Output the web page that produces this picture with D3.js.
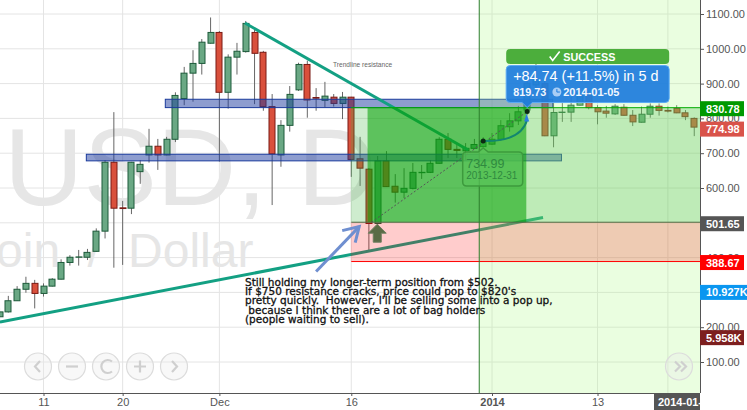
<!DOCTYPE html>
<html>
<head>
<meta charset="utf-8">
<script src="https://cdn.jsdelivr.net/npm/d3@7"></script>
<style>
    html, body { margin: 0; padding: 0; background: #fff; overflow: hidden; }
    svg { display: block; font-family: "Liberation Sans", Arial, sans-serif; }
    .tick text { fill: #555; }
</style>
</head>
<body>
<div id="chart"></div>
<script>
// daily candles, first one is Nov 6 2013 (day -5, day 0 = Nov 11)
const firstDay = -5;
const opens = [230, 244, 276, 309, 326, 297, 318, 338, 386, 401, 401, 418, 476, 674, 543, 542, 647, 695, 720, 695, 740, 857, 930, 958, 1016, 1047, 875, 976, 992, 1047, 990, 834, 695, 780, 882, 955, 860, 852, 861, 843, 861, 684, 654, 498, 678, 605, 588, 599, 644, 645, 671, 740, 711, 707, 714, 719, 726, 740, 776, 793, 824, 896, 900, 750, 817, 818, 838, 873, 831, 821, 813, 832, 809, 789, 812, 835, 823, 829, 816, 800];
const closes = [244, 276, 309, 326, 297, 318, 338, 386, 401, 402, 415, 476, 674, 542, 541, 674, 668, 720, 695, 740, 866, 930, 958, 1019, 1047, 875, 976, 993, 1073, 987, 834, 698, 780, 869, 955, 853, 858, 864, 843, 861, 682, 657, 498, 678, 604, 588, 599, 645, 645, 671, 740, 711, 708, 714, 725, 735, 740, 779, 793, 819, 901, 910, 750, 817, 818, 838, 873, 831, 819, 815, 835, 809, 790, 812, 835, 823, 821, 816, 805, 775];
const highs = [255, 290, 318, 345, 336, 326, 341, 395, 407, 422, 425, 484, 680, 818, 563, 675, 680, 770, 741, 747, 875, 948, 996, 1028, 1090, 1051, 984, 1017, 1080, 1054, 994, 870, 795, 893, 960, 966, 887, 905, 870, 876, 862, 747, 657, 692, 706, 640, 657, 672, 666, 680, 746, 758, 729, 729, 741, 746, 758, 795, 815, 836, 925, 988, 910, 844, 844, 862, 887, 880, 838, 836, 841, 841, 824, 834, 843, 843, 834, 838, 824, 803];
const lows = [221, 242, 276, 299, 254, 288, 317, 337, 377, 377, 393, 417, 455, 371, 379, 525, 612, 673, 652, 694, 732, 838, 848, 926, 1015, 676, 828, 926, 989, 841, 822, 551, 661, 762, 879, 802, 822, 832, 834, 798, 632, 606, 420, 494, 603, 558, 571, 596, 626, 643, 670, 686, 686, 680, 713, 717, 724, 735, 762, 781, 809, 876, 749, 717, 790, 790, 837, 826, 783, 802, 810, 808, 778, 788, 802, 808, 817, 815, 795, 749];

const priceTicks = [100, 200, 300, 400, 500, 600, 700, 800, 900, 1000, 1100];
const dayTicks = [0, 9, 20, 35, 51, 63];
const dayLabels = ["11", "20", "Dec", "16", "2014", "13"];
const extraGridDay = 72;

const resistanceBands = [[13.85, 57.9, 855, 831], [4.87, 58.9, 697, 678]];
const trendDown = [[22.9, 1074], [48.3, 709]];
const trendUp = [[-4.95, 215], [56.8, 515]];
const blueArrow = [[31, 360], [35.9, 489]];
const upMarkerPoint = [37.95, 496];
const entryDash = [[37.3, 501.65], [55, 819.73]];
const hoverPoint = [50, 734.99];
const targetPoint = [55, 819.73];

const panelStart = 49.55;
const zoneStart = 35;
const profitEnd = 54.9;
const entryDay = 36.85;
const targetPrice = 830.78, stopPrice = 388.67, entryPrice = 501.65;

const noteLines = [
    "Still holding my longer-term position from $502.",
    "If $750 resistance cracks, price could pop to $820's",
    "pretty quickly.  However, I'll be selling some into a pop up,",
    " because I think there are a lot of bag holders",
    "(people waiting to sell)."
];
const priceTags = [
    { text: "830.78", price: 830.78, dy: 1, fill: "#009900" },
    { text: "774.98", price: 774.98, dy: 2, fill: "#d9534a" },
    { text: "501.65", price: 501.65, dy: 1.5, fill: "#555555" },
    { text: "388.67", price: 388.67, dy: 1, fill: "#ff0000" },
    { text: "10.927K", price: 300, dy: 0, fill: "#0a96f0" },
    { text: "5.958K", price: 170, dy: 0, fill: "#7d1f1f" }
];

const width = 747, height = 410;
const plotRight = 700, plotBottom = 393;

const svg = d3.select("#chart").append("svg").attr("width", width).attr("height", height);

const x = d3.scaleLinear().domain([0, 51]).range([43.5, 492]);
const y = d3.scaleLinear().domain([100, 1100]).range([362, 14]);

svg.append("clipPath").attr("id", "plot-clip").append("rect").attr("width", plotRight).attr("height", plotBottom);
const plot = svg.append("g").attr("clip-path", "url(#plot-clip)");

// grid
plot.append("g").selectAll("line").data(priceTicks).join("line")
    .attr("x1", 0).attr("x2", plotRight).attr("y1", d => y(d)).attr("y2", d => y(d))
    .attr("stroke", "#e4e4e4");
plot.append("g").selectAll("line").data(dayTicks.concat([extraGridDay - 1])).join("line")
    .attr("x1", d => x(d)).attr("x2", d => x(d)).attr("y1", 0).attr("y2", plotBottom)
    .attr("stroke", "#e4e4e4");

// watermark
plot.append("text").attr("x", 4).attr("y", 205).attr("font-size", 110).attr("fill", "#e6e6e6").text("USD, D");
plot.append("text").attr("x", -84).attr("y", 267).attr("font-size", 48).attr("word-spacing", 14).attr("fill", "#e6e6e6").text("Bitcoin / Dollar");

// candles
const candles = opens.map((o, i) => ({ day: firstDay + i, o: o, c: closes[i], h: highs[i], l: lows[i] }));
const candleG = plot.append("g");
candleG.selectAll("line").data(candles).join("line")
    .attr("x1", d => x(d.day)).attr("x2", d => x(d.day))
    .attr("y1", d => y(d.h)).attr("y2", d => y(d.l))
    .attr("stroke", "#666");
candleG.selectAll("rect").data(candles).join("rect")
    .attr("x", d => Math.round(x(d.day)) - 3)
    .attr("width", 6)
    .attr("y", d => y(Math.max(d.o, d.c)))
    .attr("height", d => Math.abs(y(d.o) - y(d.c)))
    .attr("fill", d => d.c >= d.o ? "#6aa884" : "#d9503c")
    .attr("stroke", d => d.c >= d.o ? "#1d5a3a" : "#7a1a14");

// resistance bands
plot.append("g").selectAll("rect").data(resistanceBands).join("rect")
    .attr("x", d => x(d[0])).attr("width", d => x(d[1]) - x(d[0]))
    .attr("y", d => y(d[2])).attr("height", d => y(d[3]) - y(d[2]))
    .attr("fill", "rgba(30,60,160,0.5)").attr("stroke", "#1a3a9c");

// trendlines
const line = d3.line().x(d => x(d[0])).y(d => y(d[1]));
plot.append("path").attr("d", line(trendDown)).attr("stroke", "#13a083").attr("stroke-width", 3).attr("fill", "none");
plot.append("path").attr("d", line(trendUp)).attr("stroke", "#13a083").attr("stroke-width", 3).attr("fill", "none");

// long position zones, drawn over the candles
plot.append("rect").attr("x", x(panelStart)).attr("width", plotRight - x(panelStart)).attr("y", 0).attr("height", plotBottom)
    .attr("fill", "rgba(170,250,130,0.25)");
plot.append("rect").attr("x", x(zoneStart) - 0.5).attr("width", plotRight - x(zoneStart) + 0.5)
    .attr("y", y(targetPrice)).attr("height", y(entryPrice) - y(targetPrice))
    .attr("fill", "rgba(60,180,60,0.25)");
plot.append("rect").attr("x", x(entryDay)).attr("width", x(profitEnd) - x(entryDay))
    .attr("y", y(targetPrice)).attr("height", y(entryPrice) - y(targetPrice))
    .attr("fill", "rgba(0,160,0,0.55)");
plot.append("rect").attr("x", x(zoneStart) - 0.5).attr("width", plotRight - x(zoneStart) + 0.5)
    .attr("y", y(entryPrice)).attr("height", y(stopPrice) - y(entryPrice))
    .attr("fill", "rgba(255,0,0,0.2)");
plot.append("line").attr("x1", x(zoneStart)).attr("x2", plotRight).attr("y1", y(targetPrice)).attr("y2", y(targetPrice)).attr("stroke", "#00aa00");
plot.append("line").attr("x1", x(zoneStart)).attr("x2", plotRight).attr("y1", y(entryPrice)).attr("y2", y(entryPrice)).attr("stroke", "#4f6b45");
plot.append("line").attr("x1", x(zoneStart)).attr("x2", plotRight).attr("y1", y(stopPrice)).attr("y2", y(stopPrice)).attr("stroke", "#ff0000");
plot.append("line").attr("x1", x(panelStart)).attr("x2", x(panelStart)).attr("y1", 0).attr("y2", plotBottom).attr("stroke", "#2e7d2e");

// annotations
plot.append("path").attr("d", line(entryDash)).attr("stroke", "#555").attr("stroke-dasharray", "2 2").attr("fill", "none");

const ba1 = [x(blueArrow[1][0]), y(blueArrow[1][1])];
plot.append("path").attr("d", line(blueArrow)).attr("stroke", "#6f8fd0").attr("stroke-width", 3).attr("fill", "none");
plot.append("path").attr("d", `M${ba1[0] - 17},${ba1[1] + 4} L${ba1[0]},${ba1[1]} L${ba1[0] - 4},${ba1[1] + 16}`)
    .attr("stroke", "#6f8fd0").attr("stroke-width", 3).attr("fill", "none");

const mx = x(upMarkerPoint[0]), my = y(upMarkerPoint[1]);
plot.append("path")
    .attr("d", `M${mx},${my} l9,9 h-5 v9 h-8 v-9 h-5 z`)
    .attr("fill", "#5a6b45").attr("stroke", "#6f7f60");

const hx = x(hoverPoint[0]), hy = y(hoverPoint[1]);
const tx = x(targetPoint[0]), ty = y(targetPoint[1]);
plot.append("path").attr("d", `M${hx},${hy} Q${tx - 6},${hy + 1} ${tx},${ty + 8}`)
    .attr("stroke", "#13866f").attr("stroke-width", 2).attr("fill", "none");
plot.append("path").attr("d", `M${tx - 3},${ty + 10} L${tx - 0.5},${ty + 2} L${tx + 2},${ty + 10} z`).attr("fill", "#2a7de0");
plot.selectAll("circle.pt").data([hoverPoint, targetPoint]).join("circle").attr("class", "pt")
    .attr("cx", d => x(d[0])).attr("cy", d => y(d[1])).attr("r", 2.5).attr("fill", "#0a2a12");

plot.append("text").attr("x", 333).attr("y", 67).attr("font-size", 6.6).attr("fill", "#666").text("Trendline resistance");

// hover bubble on the bar
const bubble = plot.append("g").attr("transform", `translate(${hx},${hy})`);
bubble.append("path")
    .attr("d", "M0,7 L5,11 H35.5 q4,0 4,4 V41 q0,4 -4,4 H-16.5 q-4,0 -4,-4 V15 q0,-4 4,-4 H-5 z")
    .attr("fill", "rgba(90,195,90,0.7)").attr("stroke", "#3d9a3d").attr("stroke-width", 1.5);
bubble.append("text").attr("x", -17).attr("y", 27).attr("font-size", 12.5).attr("fill", "#2f8a3f").text("734.99");
bubble.append("text").attr("x", -17).attr("y", 38).attr("font-size", 10).attr("fill", "#2f8a3f").text("2013-12-31");

// success callout
const call = plot.append("g").attr("transform", `translate(${tx},${ty})`);
call.append("rect").attr("x", -21).attr("y", -62.5).attr("width", 163).attr("height", 15).attr("rx", 4).attr("fill", "#4cae3c");
call.append("path").attr("d", "M22.5,-55 l3,4 l7,-9").attr("stroke", "#fff").attr("stroke-width", 1.6).attr("fill", "none");
call.append("text").attr("x", 36).attr("y", -50.5).attr("font-size", 10.8).attr("font-weight", "bold").attr("fill", "#fff").text("SUCCESS");
call.append("path").attr("d", "M-17,-46 H138 q4,0 4,4 V-13 q0,4 -4,4 H5 L0,-4 L-5,-9 H-17 q-4,0 -4,-4 V-42 q0,-4 4,-4 z")
    .attr("fill", "rgba(30,125,221,0.93)").attr("stroke", "#5aaaf5");
call.append("text").attr("x", -14).attr("y", -31).attr("font-size", 14.4).attr("fill", "#fff").text("+84.74 (+11.5%) in 5 d");
call.append("text").attr("x", -14).attr("y", -16).attr("font-size", 10.8).attr("font-weight", "bold").attr("fill", "#f0f6ff").text("819.73");
call.append("circle").attr("cx", 29.7).attr("cy", -19.5).attr("r", 4.5).attr("fill", "#a8cdf5");
call.append("path").attr("d", "M29.7,-22.5 v3 h3").attr("stroke", "#1e7ddd").attr("fill", "none");
call.append("text").attr("x", 36).attr("y", -16).attr("font-size", 11).attr("font-weight", "bold").attr("fill", "#f0f6ff").text("2014-01-05");

// note
svg.append("g").selectAll("text").data(noteLines).join("text")
    .attr("x", 245).attr("y", (d, i) => 286 + i * 9.2)
    .attr("font-family", "DejaVu Sans").attr("font-size", 10.5).attr("fill", "#111")
    .attr("stroke", "#111").attr("stroke-width", 0.3)
    .style("white-space", "pre")
    .text(d => d);

// nav buttons
const navX = [38, 72, 106, 140, 174, 679];
const navIcons = ["M40,361 l-5,5.5 l5,5.5", "M66,366.5 h12", "M112,361.5 a6.5,6.5 0 1 0 0,10", "M134,366.5 h12 M140,360.5 v12", "M172,361 l5,5.5 l-5,5.5", "M675,361.5 l5,5 l-5,5 M681,361.5 l5,5 l-5,5"];
svg.append("g").selectAll("circle").data(navX).join("circle")
    .attr("cx", d => d).attr("cy", 366.5).attr("r", 13.5)
    .attr("fill", "rgba(235,235,235,0.35)").attr("stroke", "#dcdcdc").attr("stroke-width", 1.2);
svg.append("g").selectAll("path").data(navIcons).join("path")
    .attr("d", d => d).attr("fill", "none").attr("stroke", "#cfcfcf").attr("stroke-width", 2.2);

// axes
const axisR = svg.append("g").attr("transform", `translate(${plotRight},0)`)
    .call(d3.axisRight(y).tickValues(priceTicks).tickFormat(d3.format(".2f")).tickSize(4).tickPadding(2));
axisR.selectAll("text").attr("font-size", 11).attr("font-family", "Liberation Sans");
axisR.selectAll("line").attr("stroke", "#555");
axisR.select(".domain").attr("d", `M0.5,0 V${plotBottom}`).attr("stroke", "#555");

const axisB = svg.append("g").attr("transform", `translate(0,${plotBottom})`)
    .call(d3.axisBottom(x).tickValues(dayTicks).tickFormat((d, i) => dayLabels[i]).tickSize(3).tickPadding(2));
axisB.selectAll("text").attr("font-size", 11).attr("font-family", "Liberation Sans")
    .attr("font-weight", d => d === 51 ? "bold" : "normal");
axisB.selectAll("line").attr("stroke", "#555");
axisB.select(".domain").attr("d", `M0,0.5 H${plotRight}`).attr("stroke", "#555");

// price tags on the axis
const tags = svg.append("g").selectAll("g").data(priceTags).join("g")
    .attr("transform", d => `translate(${plotRight},${y(d.price) + d.dy})`);
tags.append("rect").attr("x", 0).attr("y", -7.5).attr("width", d => d.text.length > 6 ? 47 : 44).attr("height", 15).attr("fill", d => d.fill);
tags.append("text").attr("x", 6).attr("y", 4).attr("font-size", 11).attr("font-weight", "bold").attr("fill", "#fff").text(d => d.text);

// date tag under the last candle
svg.append("clipPath").attr("id", "date-clip").append("rect").attr("x", 654).attr("y", plotBottom).attr("width", 46).attr("height", 17);
const dateTag = svg.append("g").attr("clip-path", "url(#date-clip)");
dateTag.append("rect").attr("x", 654).attr("y", plotBottom).attr("width", 46).attr("height", 17).attr("fill", "#555");
dateTag.append("text").attr("x", 658).attr("y", 406).attr("font-size", 11).attr("font-weight", "bold").attr("fill", "#fff").text("2014-01-24");
</script>
</body>
</html>
